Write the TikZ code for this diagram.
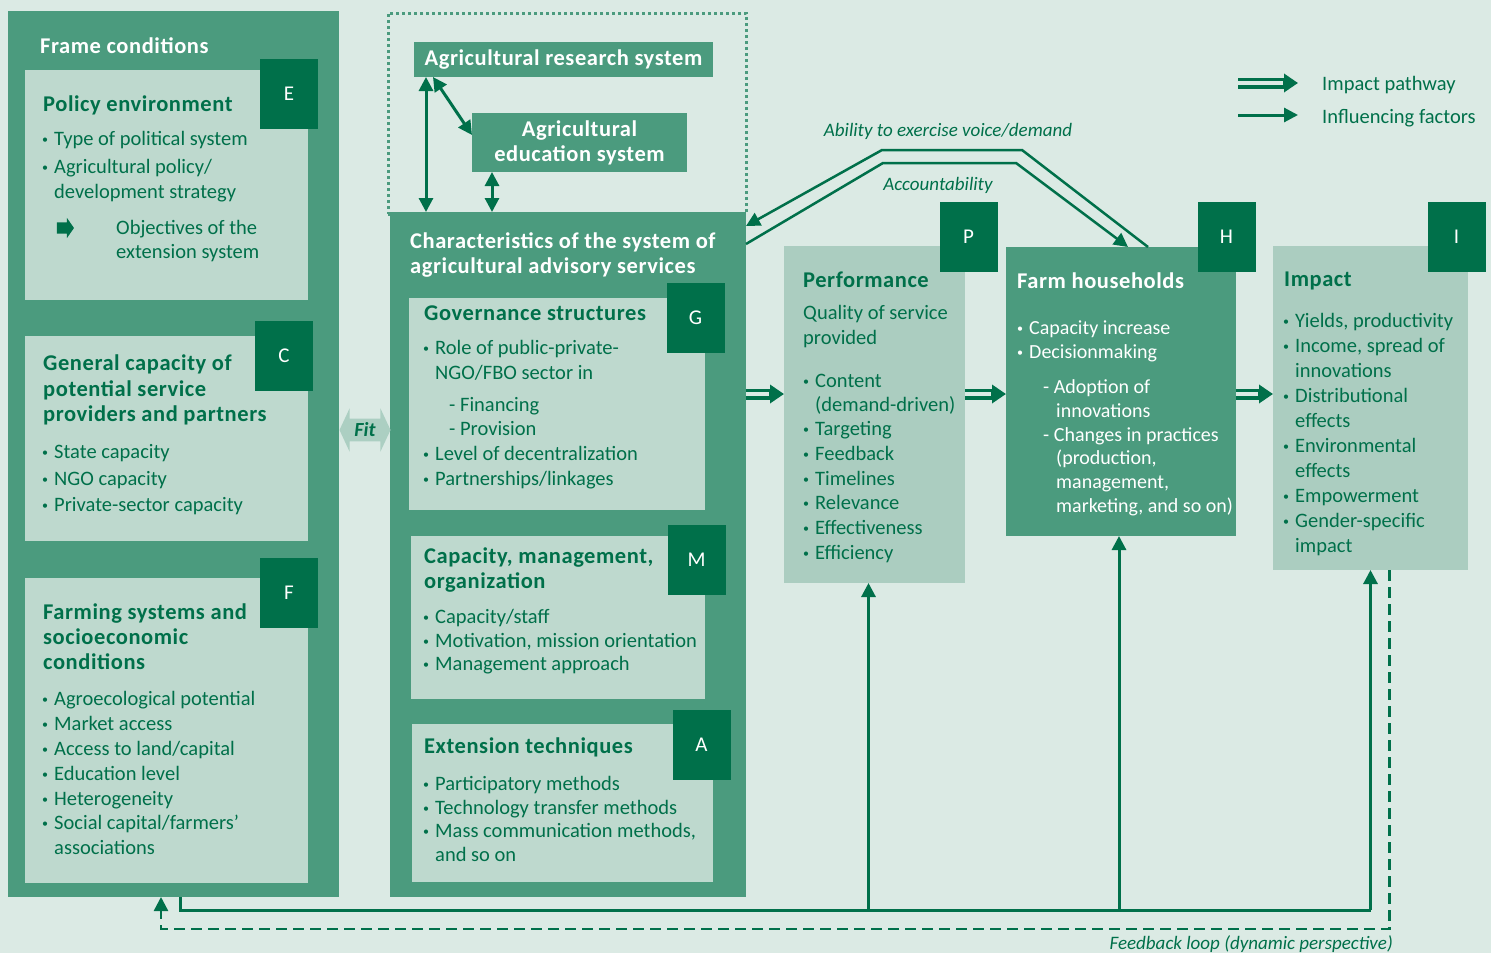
\documentclass[tikz,border=0pt]{standalone}
\usepackage{fontspec}
\setmainfont{Carlito}
\newfontfamily\hdfont{Carlito}[LetterSpace=2.5]
\usetikzlibrary{arrows.meta, shapes.arrows}

\definecolor{bg}{RGB}{219,234,228}
\definecolor{midgreen}{RGB}{75,155,126}
\definecolor{lightbox}{RGB}{190,217,206}
\definecolor{perfbox}{RGB}{171,205,192}
\definecolor{fitgreen}{RGB}{172,207,194}
\definecolor{dkgreen}{RGB}{0,112,74}

\newcommand\bul{\makebox[12pt][l]{\raisebox{2pt}{\fontsize{12}{12}\selectfont •}}}
\newcommand\indt{\hspace*{12pt}}

\tikzset{
  panel/.style={anchor=north west, inner sep=0pt, outer sep=0pt},
  lettertag/.style={fill=dkgreen, text=white, minimum width=58pt, minimum height=70pt,
    inner sep=0pt, font=\fontsize{21}{21}\selectfont},
  txt/.style={anchor=north west, inner sep=0pt, align=left, text=dkgreen, yshift=-2pt,
    font=\fontsize{20.5}{25}\selectfont},
  hd/.style={txt, font=\fontsize{22.5}{25.5}\selectfont\hdfont\bfseries},
  wtxt/.style={txt, text=white},
  whd/.style={hd, text=white},
  itl/.style={inner sep=0pt, text=dkgreen, font=\fontsize{19}{19}\selectfont\itshape},
  infl/.style={draw=dkgreen, line width=3pt},
  arrowtip/.style={-{Triangle[length=14pt,width=14pt]}},
  pathway/.style={draw=dkgreen, line width=11pt, -{Triangle[length=14pt,width=18pt]},
    postaction={draw=bg, line width=4pt, shorten >=15pt, -}}
}

\begin{document}
\begin{tikzpicture}[x=1pt, y=-1pt]
    \fill[bg] (0,0) rectangle (1491,953);
    \useasboundingbox (0,0) rectangle (1491,953);

    % Frame conditions
    \node[panel, fill=midgreen, minimum width=331pt, minimum height=886pt] (frame) at (8,11) {};
    \node[whd, anchor=west] (frameT) at (40,44) {Frame conditions};

    \node[panel, fill=lightbox, minimum width=283pt, minimum height=230pt] (pol) at (25,70) {};
    \node[hd] (polH) at (43,94) {Policy environment};
    \node[txt] (polB) at (42,129.5) {\bul Type of political system\\[3pt]\bul Agricultural policy/\\
        \indt development strategy};
    \node[single arrow, fill=dkgreen, inner sep=5.5pt, single arrow head extend=4.5pt,
        single arrow tip angle=110, minimum height=17pt] (polArr) at (63.5,228) {};
    \node[txt] (polObj) at (116,218.5) {Objectives of the\\[-1pt]extension system};

    \node[panel, fill=lightbox, minimum width=283pt, minimum height=205pt] (gen) at (25,336) {};
    \node[hd] (genH) at (43,353) {General capacity of\\potential service\\providers and partners};
    \node[txt, font=\fontsize{20.5}{26.5}\selectfont] (genB) at (42,442.5) {\bul State capacity\\
        \bul NGO capacity\\\bul Private-sector capacity};

    \node[panel, fill=lightbox, minimum width=283pt, minimum height=305pt] (farmsys) at (25,578) {};
    \node[hd, font=\fontsize{22.5}{25}\selectfont\hdfont\bfseries] (farmsysH) at (43,602)
        {Farming systems and\\socioeconomic\\conditions};
    \node[txt, font=\fontsize{20.5}{24.8}\selectfont] (farmsysB) at (42,689.5) {\bul Agroecological potential\\
        \bul Market access\\\bul Access to land/capital\\\bul Education level\\\bul Heterogeneity\\
        \bul Social capital/farmers’\\\indt associations};

    % Research and education systems
    \node[panel, draw=midgreen, line width=3pt, dash pattern=on 3pt off 3pt,
        minimum width=358pt, minimum height=201pt] (sys) at (388,13) {};
    \node[panel, fill=midgreen, text=white, font=\fontsize{22.5}{22}\selectfont\hdfont\bfseries,
        minimum width=299pt, minimum height=35pt] (research) at (414,42) {Agricultural research system};
    \node[panel, fill=midgreen, text=white, align=center, font=\fontsize{22.5}{25}\selectfont\hdfont\bfseries,
        minimum width=215pt, minimum height=59pt] (edu) at (472,113) {Agricultural\\education system};

    % Characteristics of the advisory services
    \node[panel, fill=midgreen, minimum width=356pt, minimum height=685pt] (chars) at (390,212) {};
    \node[whd] (charsH) at (410,230) {Characteristics of the system of\\agricultural advisory services};

    \node[panel, fill=lightbox, minimum width=296pt, minimum height=212pt] (gov) at (409,298) {};
    \node[hd] (govH) at (424,304) {Governance structures};
    \node[txt] (govB) at (423,338.5) {\bul Role of public-private-\\\indt NGO/FBO sector in\\[7pt]
        \hspace*{26pt}- Financing\\[-1pt]\hspace*{26pt}- Provision\\
        \bul Level of decentralization\\\bul Partnerships/linkages};

    \node[panel, fill=lightbox, minimum width=294pt, minimum height=163pt] (cap) at (411,536) {};
    \node[hd, font=\fontsize{22.5}{25}\selectfont\hdfont\bfseries] (capH) at (424,546)
        {Capacity, management,\\organization};
    \node[txt, font=\fontsize{20.5}{23.5}\selectfont] (capB) at (423,607.5) {\bul Capacity/staff\\
        \bul Motivation, mission orientation\\\bul Management approach};

    \node[panel, fill=lightbox, minimum width=301pt, minimum height=158pt] (ext) at (412,724) {};
    \node[hd] (extH) at (424,736) {Extension techniques};
    \node[txt, font=\fontsize{20.5}{23.5}\selectfont] (extB) at (423,774.5) {\bul Participatory methods\\
        \bul Technology transfer methods\\\bul Mass communication methods,\\\indt and so on};

    % Performance, farm households, impact
    \node[panel, fill=perfbox, minimum width=181pt, minimum height=337pt] (perf) at (784,246) {};
    \node[hd] (perfH) at (803,270) {Performance};
    \node[txt, font=\fontsize{20.5}{24.7}\selectfont] (perfB) at (803,303.5) {Quality of service\\provided\\[18pt]
        \bul Content\\[-1pt]\indt (demand-driven)\\\bul Targeting\\\bul Feedback\\\bul Timelines\\
        \bul Relevance\\\bul Effectiveness\\\bul Efficiency};

    \node[panel, fill=midgreen, minimum width=230pt, minimum height=289pt] (farm) at (1006,247) {};
    \node[whd] (farmH) at (1017,271) {Farm households};
    \node[wtxt, font=\fontsize{20}{23.7}\selectfont] (farmB) at (1017,318.5) {\bul Capacity increase\\
        \bul Decisionmaking\\[12pt]\hspace*{26pt}- Adoption of\\\hspace*{39pt}innovations\\
        \hspace*{26pt}- Changes in practices\\\hspace*{39pt}(production,\\\hspace*{39pt}management,\\
        \hspace*{39pt}marketing, and so on)};

    \node[panel, fill=perfbox, minimum width=195pt, minimum height=324pt] (impact) at (1273,246) {};
    \node[hd] (impactH) at (1284,270) {Impact};
    \node[txt, font=\fontsize{20.5}{24.9}\selectfont] (impactB) at (1283,311.5) {\bul Yields, productivity\\
        \bul Income, spread of\\\indt innovations\\\bul Distributional\\\indt effects\\
        \bul Environmental\\\indt effects\\\bul Empowerment\\\bul Gender-specific\\\indt impact};

    % Letter tags
    \foreach \nm/\lt/\x/\y in {tE/E/289/93.5, tC/C/284/355.5, tF/F/289/592.5, tG/G/695.5/317.5,
        tM/M/696.5/559.5, tA/A/701.5/745, tP/P/968.5/237, tH/H/1226.5/237, tI/I/1456.5/237}{
        \node[lettertag] (\nm) at (\x,\y) {\lt};
    }

    % Fit
    \node[double arrow, fill=fitgreen, double arrow head extend=10.5pt, double arrow tip angle=130,
        minimum height=51pt, inner sep=4pt, text=dkgreen,
        font=\fontsize{20}{20}\selectfont\bfseries\itshape] (fit) at (365,430) {Fit};

    % Links between the systems
    \draw[infl, {Triangle[length=14pt,width=14pt]}-{Triangle[length=14pt,width=14pt]}]
        ([xshift=12pt]research.south west) -- ([xshift=12pt]research.south west |- chars.north);
    \draw[infl, {Triangle[length=14pt,width=14pt]}-{Triangle[length=14pt,width=14pt]}]
        ([xshift=19pt]research.south west) -- ([yshift=7.5pt]edu.west);
    \draw[infl, {Triangle[length=14pt,width=14pt]}-{Triangle[length=14pt,width=14pt]}]
        ([xshift=20pt]edu.south west) -- ([xshift=20pt]edu.south west |- chars.north);

    % Voice and accountability
    \draw[infl, line width=2.5pt, arrowtip] ([xshift=27pt]farm.north) -- (1022,150) -- (882,150)
        -- ([yshift=-14pt]chars.north east);
    \draw[infl, line width=2.5pt, arrowtip] ([yshift=-32pt]chars.north east) -- (883,163) -- (1016,163)
        -- ([xshift=7pt]farm.north);
    \node[itl] (ability) at (948,131) {Ability to exercise voice/demand};
    \node[itl] (account) at (938,185) {Accountability};

    % Impact pathway
    \coordinate (lvl) at (0,394);
    \foreach \a/\b in {chars/perf, perf/farm, farm/impact}{
        \draw[pathway] (\a.east |- lvl) -- (\b.west |- lvl);
    }

    % Feedback
    \coordinate (fb) at (0,910);
    \draw[infl] ([xshift=172pt]frame.south west) |- (impact.south |- fb);
    \foreach \b/\s in {perf/-6, farm/-2, impact/0}{
        \draw[infl, arrowtip] ([xshift=\s]\b.south |- fb) -- ([xshift=\s]\b.south);
    }
    \coordinate (fd) at (161,929);
    \draw[infl, line width=2.5pt, dash pattern=on 11pt off 6pt, arrowtip]
        ([xshift=19pt]impact.south) |- (fd) -- (fd |- frame.south);
    \node[itl, anchor=east] (fbLbl) at (1393,944) {Feedback loop (dynamic perspective)};

    % Legend
    \node[txt, anchor=west] (lgImp) at (1322,83) {Impact pathway};
    \node[txt, anchor=west] (lgInf) at (1322,116) {Influencing factors};
    \coordinate (lgA) at (1238,83);
    \coordinate (lgB) at (1238,115);
    \draw[pathway] (lgA) -- ([xshift=-24pt]lgImp.west |- lgA);
    \draw[infl, arrowtip] (lgB) -- ([xshift=-24pt]lgInf.west |- lgB);

\end{tikzpicture}
\end{document}
